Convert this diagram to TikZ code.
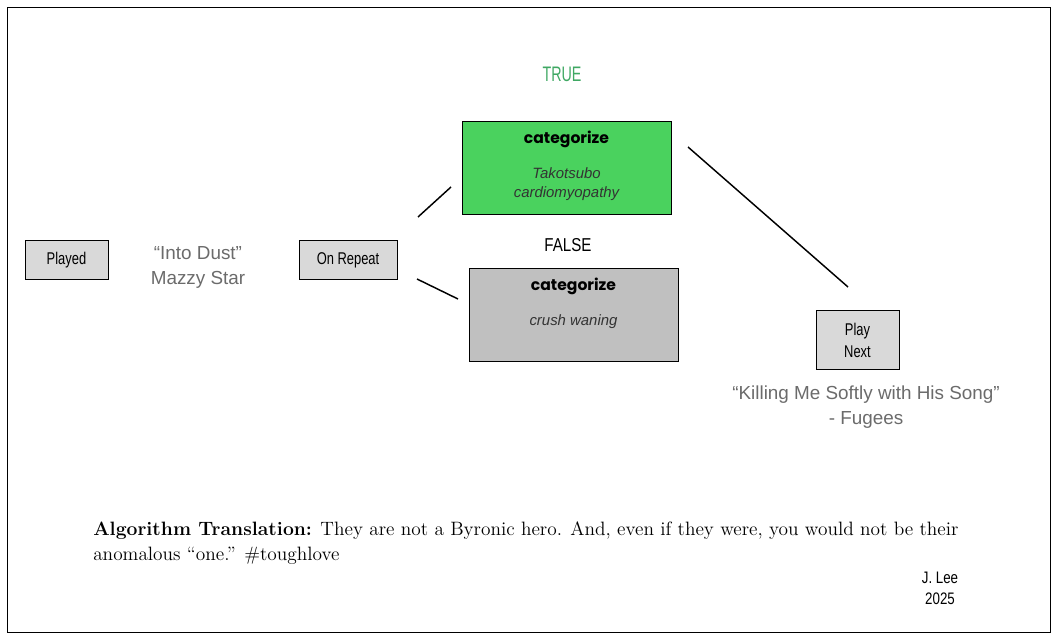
\documentclass[tikz,border=0pt]{standalone}
\usepackage{fontspec}
\usepackage{graphicx}
\newfontfamily\arial{Liberation Sans}
\newfontfamily\pop{Poppins}
\newcommand\cond[1]{\scalebox{0.76}[1]{#1}}
\definecolor{songgray}{HTML}{6B6B6B}
\definecolor{boxgreen}{HTML}{4AD25E}
\definecolor{truegreen}{HTML}{3FA863}
\definecolor{smallfill}{HTML}{D9D9D9}
\definecolor{bigfill}{HTML}{C0C0C0}
\definecolor{italgray}{HTML}{333333}
\tikzset{
  smallbox/.style={draw=black, line width=0.7pt, fill=smallfill, inner sep=0pt},
  bigbox/.style={draw=black, line width=0.7pt, inner sep=0pt, minimum width=156.75pt, minimum height=69.75pt},
  conn/.style={line width=1.1pt, black},
  song/.style={text=songgray, font=\arial\fontsize{14.15}{18.75}\selectfont, align=center, inner sep=0pt},
  cat/.style={font=\pop\bfseries\fontsize{11.7}{13}\selectfont, inner sep=0pt},
  ital/.style={text=italgray, font=\arial\itshape\fontsize{11.2}{14.2}\selectfont, align=center, inner sep=0pt},
  narrowlbl/.style={font=\arial\fontsize{12.75}{16.5}\selectfont, align=center, inner sep=0pt}
}
\begin{document}
\begin{tikzpicture}[x=0.75pt, y=-0.75pt]
\useasboundingbox (0,0) rectangle (1058,641);
\draw[line width=1.4pt] (7.5,7.5) rectangle (1050.5,632.5);

% small boxes
\node[smallbox, minimum width=62.25pt, minimum height=29.25pt] (played) at (66.5,259.5) {};
\node[narrowlbl] (playedt) at (66.5,260) {\cond{Played}};
\node[smallbox, minimum width=73.5pt, minimum height=29.25pt] (repeat) at (348,259.5) {};
\node[narrowlbl] (repeatt) at (348,260) {\cond{On Repeat}};
\node[smallbox, minimum width=62.25pt, minimum height=44.25pt] (next) at (857.5,339.5) {};
\node[narrowlbl] (nextt) at (857.5,340) {\cond{Play}\\\cond{Next}};

% songs
\node[song] (dust) at (198,267) {“Into Dust”\\Mazzy Star};
\node[song] (killing) at (866,407) {“Killing Me Softly with His Song”\\- Fugees};

% big boxes
\node[bigbox, fill=boxgreen] (truebox) at (566.5,167.5) {};
\node[cat] (cat1) at (566.5,139) {categorize};
\node[ital] (tako) at (566.5,184) {Takotsubo\\cardiomyopathy};
\node[bigbox, fill=bigfill] (falsebox) at (573.5,314.5) {};
\node[cat] (cat2) at (573.5,286) {categorize};
\node[ital] (crush) at (573.5,322) {crush waning};

% branch labels
\node[text=truegreen, font=\arial\fontsize{15.75}{18}\selectfont, inner sep=0pt] (truel) at (562,74) {\scalebox{0.68}[1]{TRUE}};
\node[font=\arial\fontsize{14}{16}\selectfont, inner sep=0pt] (falsel) at (568,245) {\scalebox{0.81}[1]{FALSE}};

% connectors
\coordinate (r1a) at (418,217);
\coordinate (r1b) at (451,187);
\coordinate (r2a) at (417,279);
\coordinate (r2b) at (458,299);
\coordinate (t1a) at (688,147);
\coordinate (t1b) at (848,287);
\draw[conn] (r1a) -- (r1b);
\draw[conn] (r2a) -- (r2b);
\draw[conn] (t1a) -- (t1b);

% footer
\node[anchor=base west, align=left, inner sep=0pt, font=\fontsize{14.5}{18.75}\selectfont] (algo) at (93,561)
  {\textbf{Algorithm Translation:} They are not a Byronic hero. And, even if they were, you would not be their\\anomalous “one.” \#toughlove};
\node[font=\arial\fontsize{12.5}{15.75}\selectfont, align=center, inner sep=0pt] (author) at (940,588.5) {\scalebox{0.8}[1]{J. Lee}\\\scalebox{0.8}[1]{2025}};
\end{tikzpicture}
\end{document}
